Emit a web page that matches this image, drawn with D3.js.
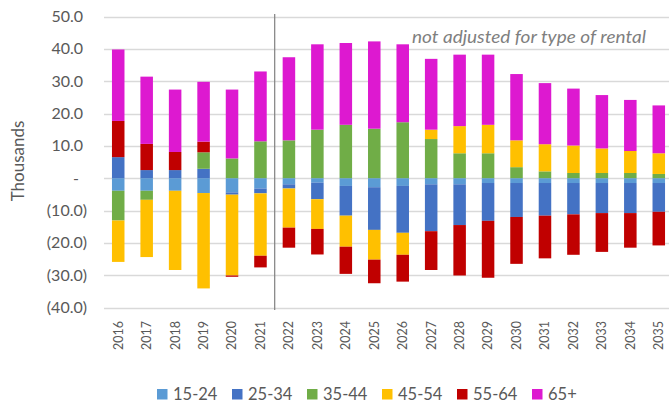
<!DOCTYPE html>
<html>
<head>
<meta charset="utf-8">
<script src="https://cdn.jsdelivr.net/npm/d3@7"></script>
<style>
  body { margin: 0; background: #fff; }
  svg { font-family: Lato, "Open Sans", sans-serif; }
</style>
</head>
<body>
<div id="container"></div>
<script>
// chart data (thousands)
const years = ["2016","2017","2018","2019","2020","2021","2022","2023","2024","2025",
               "2026","2027","2028","2029","2030","2031","2032","2033","2034","2035"];
const ageGroups = ["15-24","25-34","35-44","45-54","55-64","65+"];
const age15_24 = [-3.9,-3.9,-3.9,-4.6,-4.4,-3.2,-1.9,-1.4,-2.4,-2.8,-2.4,-1.9,-1.9,-1.5,-1.5,-1.5,-1.5,-1.5,-1.5,-1.5];
const age25_34 = [6.5,2.5,2.5,2.9,-0.7,-1.5,-1.3,-5.1,-9.2,-13.2,-14.5,-14.5,-12.6,-11.7,-10.5,-10.1,-9.7,-9.3,-9.3,-8.9];
const age35_44 = [-9.2,-2.8,0,5.1,6.1,11.4,11.7,15.0,16.5,15.3,17.3,12.1,7.7,7.7,3.4,2.1,1.6,1.6,1.6,1.3];
const age45_54 = [-12.8,-17.7,-24.5,-29.5,-25.0,-19.3,-12.1,-9.2,-9.6,-9.2,-6.8,2.9,8.4,8.8,8.3,8.4,8.5,7.6,6.8,6.4];
const age55_64 = [11.2,8.1,5.6,3.3,-0.4,-3.6,-6.2,-7.9,-8.4,-7.3,-8.3,-12.0,-15.6,-17.6,-14.5,-13.2,-12.5,-12.0,-10.7,-10.4];
const age65plus = [22.1,20.8,19.3,18.5,21.3,21.6,25.7,26.4,25.3,27.0,24.1,21.9,22.1,21.7,20.5,18.9,17.6,16.5,15.8,14.8];
const yTicks = [50,40,30,20,10,0,-10,-20,-30,-40];

const COLORS = ["#5b9bd5","#4472c4","#70ad47","#ffc000","#c00000","#dd19d0"];
const WIDTH = 669, HEIGHT = 403;

// rows for d3.stack
const seriesValues = [age15_24, age25_34, age35_44, age45_54, age55_64, age65plus];
const rows = years.map((yr, i) => {
    const row = { year: yr };
    ageGroups.forEach((g, k) => { row[g] = seriesValues[k][i]; });
    return row;
});

const svg = d3.select("#container")
    .append("svg")
    .attr("width", WIDTH)
    .attr("height", HEIGHT);

const x = d3.scaleBand()
    .domain(years)
    .range([104, 673])
    .paddingInner(0.56)
    .paddingOuter(0.28);

const y = d3.scaleLinear()
    .domain([-40, 50])
    .range([307.5, 16.5]);

// accounting style labels: "-" for zero, brackets for negatives
const fmt = (v) => {
    if (v === 0) return "-";
    if (v < 0) return "(" + Math.abs(v).toFixed(1) + ")";
    return v.toFixed(1);
};
const labelRight = (v) => (v < 0 ? 87 : v === 0 ? 79 : 83);

// gridlines
svg.append("g")
    .selectAll("line")
    .data(yTicks)
    .join("line")
    .attr("x1", 104)
    .attr("x2", WIDTH)
    .attr("y1", (d) => Math.round(y(d)) + 0.5)
    .attr("y2", (d) => Math.round(y(d)) + 0.5)
    .attr("stroke", "#d9d9d9")
    .attr("stroke-width", 1.3);

// y tick labels
svg.append("g")
    .selectAll("text")
    .data(yTicks)
    .join("text")
    .attr("x", labelRight)
    .attr("y", (d) => y(d))
    .attr("dy", "0.35em")
    .attr("text-anchor", "end")
    .attr("font-size", 16)
    .attr("fill", "#595959")
    .text(fmt);

// axis title
svg.append("text")
    .attr("transform", "translate(18,161) rotate(-90)")
    .attr("text-anchor", "middle")
    .attr("dy", "0.35em")
    .attr("font-size", 17)
    .attr("fill", "#595959")
    .text("Thousands");

// stacked bars
const stack = d3.stack()
    .keys(ageGroups)
    .offset(d3.stackOffsetDiverging);
const layers = stack(rows);

svg.append("g")
    .selectAll("g")
    .data(layers)
    .join("g")
    .attr("fill", (d, i) => COLORS[i])
    .selectAll("rect")
    .data((d) => d)
    .join("rect")
    .attr("x", (d) => x(d.data.year))
    .attr("width", x.bandwidth())
    .attr("y", (d) => y(Math.max(d[0], d[1])))
    .attr("height", (d) => Math.abs(y(d[0]) - y(d[1])));

// divider between actuals and projections
const divX = (x("2021") + x("2022") + x.bandwidth()) / 2;
svg.append("line")
    .attr("x1", divX)
    .attr("x2", divX)
    .attr("y1", 14)
    .attr("y2", 310)
    .attr("stroke", "#808080")
    .attr("stroke-width", 1.2);

// annotation
svg.append("text")
    .attr("x", 412)
    .attr("y", 43)
    .attr("font-size", 18)
    .attr("font-style", "italic")
    .attr("fill", "#7f7f7f")
    .attr("textLength", 234)
    .attr("lengthAdjust", "spacingAndGlyphs")
    .text("not adjusted for type of rental");

// x tick labels (rotated)
svg.append("g")
    .selectAll("text")
    .data(years)
    .join("text")
    .attr("transform", (d) => `translate(${x(d) + x.bandwidth() / 2},321) rotate(-90)`)
    .attr("dy", "0.35em")
    .attr("text-anchor", "end")
    .attr("font-size", 12.5)
    .attr("fill", "#595959")
    .text((d) => d);

// legend
const legend = svg.append("g")
    .selectAll("g")
    .data(ageGroups)
    .join("g")
    .attr("transform", (d, i) => `translate(${157 + i * 75},389)`);
legend.append("rect")
    .attr("width", 10.5)
    .attr("height", 10.5)
    .attr("fill", (d, i) => COLORS[i]);
legend.append("text")
    .attr("x", 16)
    .attr("y", 5.5)
    .attr("dy", "0.35em")
    .attr("font-size", 16.5)
    .attr("fill", "#595959")
    .text((d) => d);
</script>
</body>
</html>
